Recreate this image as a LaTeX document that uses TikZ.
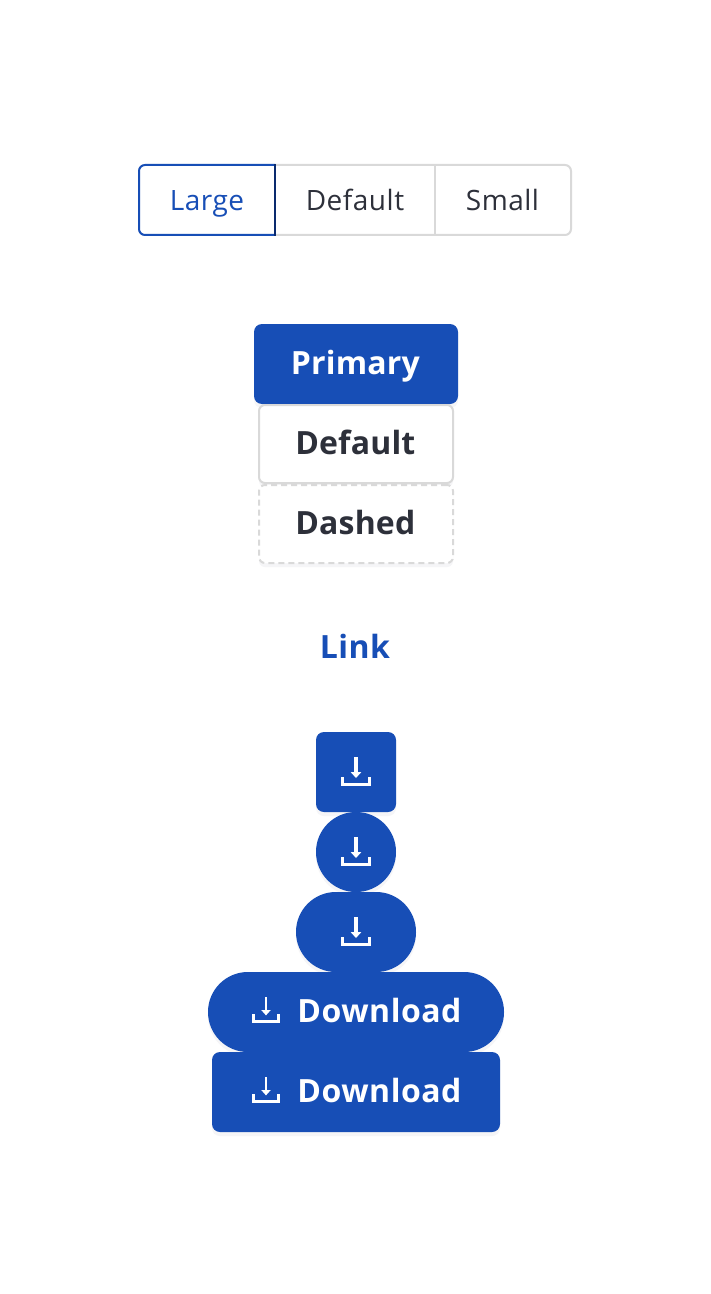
\documentclass[tikz,border=0pt]{standalone}
\usepackage{fontspec}
\setmainfont{Open Sans}
\usepackage{xcolor}
\definecolor{btnblue}{RGB}{23,78,182}
\definecolor{btnnavy}{RGB}{10,42,110}
\definecolor{btnink}{RGB}{45,48,58}
\definecolor{btngray}{RGB}{217,217,217}
\definecolor{btnshade}{RGB}{245,245,247}
\def\px{0.75pt}
\tikzset{
  btnbase/.style={minimum height=80*\px, inner sep=0pt, rounded corners=8*\px,
    text height=20*\px, text depth=0pt,
    font=\fontsize{24pt}{28pt}\selectfont\bfseries\addfontfeature{LetterSpace=0.6},
    preaction={draw=none, fill=btnshade, transform canvas={yshift=-4*\px}}},
  btnprimary/.style={btnbase, fill=btnblue, text=white},
  btnplain/.style={btnbase, draw=btngray, line width=2*\px, fill=white, text=btnink, rounded corners=6*\px},
  btndashed/.style={btnplain, dash pattern=on 6*\px off 4*\px},
  btnround/.style={btnprimary, rounded corners=39.9*\px},
  btnlabel/.style={inner sep=0pt, anchor=base, text=white,
    font=\fontsize{24pt}{28pt}\selectfont\bfseries\addfontfeature{LetterSpace=1.6}},
  seglabel/.style={inner sep=0pt, anchor=base, text=btnink,
    font=\fontsize{21pt}{26pt}\selectfont\addfontfeature{LetterSpace=1.8}},
  dlicon/.pic={
    \fill[white] (-1.6,-15) rectangle (1.6,1);
    \fill[white] (-5.4,0) -- (5.4,0) -- (0,6) -- cycle;
    \draw[white, line width=3*\px] (-13.5,5) -- (-13.5,12.6) -- (13.5,12.6) -- (13.5,5);
  }
}
\begin{document}
\begin{tikzpicture}[x=0.75pt, y=-0.75pt]
    \useasboundingbox (0,0) rectangle (710,1294);
    \fill[white] (0,0) rectangle (710,1294);

    % ── Size switch ──────────────────────────────────────────────────────────
    \draw[btngray, line width=2*\px, rounded corners=6*\px] (275,165) -- (571,165) -- (571,235) -- (275,235);
    \draw[btngray, line width=2*\px] (275,165) -- (275,235) (435,165) -- (435,235);
    \draw[btnblue, line width=2*\px, rounded corners=6*\px] (275,165) -- (139,165) -- (139,235) -- (275,235);
    \draw[btnnavy, line width=2*\px] (275,164) -- (275,236);
    \foreach \name/\xc/\lbl in {segdefault/355/Default, segsmall/502.5/Small} {
      \node[seglabel] (\name) at (\xc,211) {\lbl};
    }
    \node[seglabel, text=btnblue] (seglarge) at (207,211) {Large};

    % ── Text buttons ─────────────────────────────────────────────────────────
    \node[btnprimary, minimum width=204*\px] (primary) at (356,364) {\hspace{-1pt}Primary};
    \node[btnplain, minimum width=194*\px, minimum height=78*\px] (default) at (356,444) {\hspace{-1pt}Default};
    \node[btndashed, minimum width=194*\px, minimum height=78*\px] (dashed) at (356,524) {\hspace{-1pt}Dashed};
    \node[btnlabel, text=btnblue] (link) at (355,658) {Link};

    % ── Icon buttons ─────────────────────────────────────────────────────────
    \node[btnprimary, minimum width=80*\px] (iconsquare) at (356,772) {};
    \node[btnround, minimum width=80*\px] (iconcircle) at (356,852) {};
    \node[btnround, minimum width=120*\px] (iconround) at (356,932) {};
    \node[btnround, minimum width=296*\px] (dlround) at (356,1012) {};
    \node[btnprimary, minimum width=288*\px] (dlsquare) at (356,1092) {};
    \foreach \y in {772,852,932} {
      \pic at (356,\y) {dlicon};
    }
    \foreach \y/\name in {1010/dlroundlabel,1090/dlsquarelabel} {
      \pic[scale=0.89] at (266,\y) {dlicon};
      \node[btnlabel] (\name) at (379.5,\y+12) {Download};
    }
\end{tikzpicture}
\end{document}
